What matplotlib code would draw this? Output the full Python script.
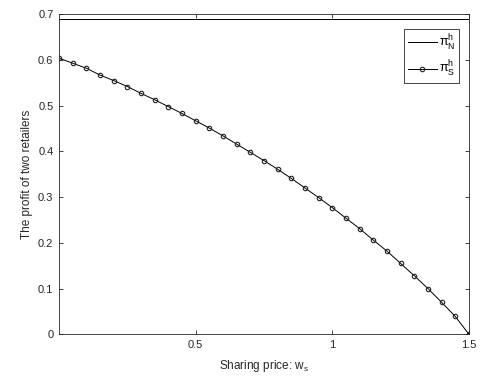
import matplotlib
matplotlib.use("Agg")
import matplotlib.pyplot as plt

plt.rcParams["font.family"] = ["Liberation Sans", "DejaVu Sans"]
plt.rcParams["mathtext.fontset"] = "custom"
plt.rcParams["mathtext.rm"] = "Liberation Sans"
plt.rcParams["mathtext.it"] = "Liberation Sans:italic"

# sharing price w_s and the two profit series
w_s = [0.00, 0.05, 0.10, 0.15, 0.20, 0.25, 0.30, 0.35, 0.40, 0.45,
       0.50, 0.55, 0.60, 0.65, 0.70, 0.75, 0.80, 0.85, 0.90, 0.95,
       1.00, 1.05, 1.10, 1.15, 1.20, 1.25, 1.30, 1.35, 1.40, 1.45, 1.50]
profit_S = [0.604, 0.593, 0.582, 0.567, 0.555, 0.542, 0.527, 0.513, 0.498, 0.483,
            0.467, 0.451, 0.434, 0.416, 0.398, 0.380, 0.361, 0.341, 0.320, 0.299,
            0.277, 0.254, 0.231, 0.206, 0.182, 0.155, 0.128, 0.100, 0.070, 0.039,
            0.000]
profit_N = [0.69] * len(w_s)

xticks = [0.5, 1, 1.5]
yticks = [0, 0.1, 0.2, 0.3, 0.4, 0.5, 0.6, 0.7]

axis_color = "#262626"

fig = plt.figure(figsize=(4.8, 3.81), dpi=100)
ax = fig.add_axes([0.123, 0.1226, 0.854, 0.8399])

ax.plot(w_s, profit_N, color="black", lw=0.7, label=r"π$^{\mathrm{h}}_{\mathrm{N}}$")
ax.plot(w_s, profit_S, color="black", lw=0.7, marker="o", ms=3.2,
        mfc="none", mec="#222222", mew=0.8, label=r"π$^{\mathrm{h}}_{\mathrm{S}}$")

ax.set_xlim(0, 1.5)
ax.set_ylim(0, 0.7)
ax.set_xticks(xticks)
ax.set_xticklabels(["0.5", "1", "1.5"])
ax.set_yticks(yticks)
ax.set_yticklabels(["0", "0.1", "0.2", "0.3", "0.4", "0.5", "0.6", "0.7"])

ax.tick_params(direction="in", top=True, right=True, length=3, width=0.6,
               labelsize=8, colors=axis_color, pad=4)
for spine in ax.spines.values():
    spine.set_color(axis_color)
    spine.set_linewidth(0.6)

ax.set_xlabel(r"Sharing price: w$_{\mathrm{s}}$", fontsize=8.5, color=axis_color, labelpad=6)
ax.set_ylabel("The profit of two retailers", fontsize=8.5, color=axis_color)

leg = ax.legend(loc="upper right", bbox_to_anchor=(0.976, 0.954), fontsize=9,
                fancybox=False, framealpha=1, edgecolor=axis_color,
                handlelength=2.3, borderpad=0.3, labelspacing=0.5,
                handletextpad=0.2, borderaxespad=0.0)
leg.get_frame().set_linewidth(0.6)

fig.savefig("out.png", dpi=100)
